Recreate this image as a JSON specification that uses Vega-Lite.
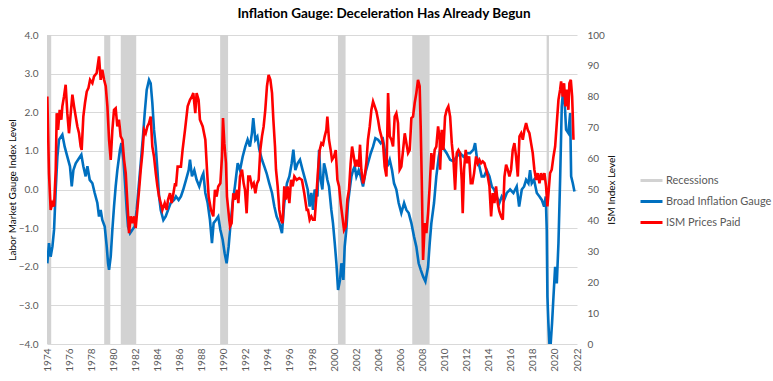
{
  "$schema": "https://vega.github.io/schema/vega-lite/v6.json",
  "width": 530,
  "height": 309,
  "autosize": {"type": "none"},
  "padding": {"left": 47, "top": 35, "right": 196, "bottom": 37},
  "background": "white",
  "title": {"text": "Inflation Gauge: Deceleration Has Already Begun", "fontSize": 13.5, "font": "Lato", "fontWeight": "bold", "color": "#000000", "anchor": "middle", "frame": "group", "dx": 72, "offset": 10},
  "config": {"font": "Lato", "view": {"stroke": null}},
  "datasets": {
    "rec": [
      {"t": 1974.92, "t2": 1975.3}, {"t": 1980.1, "t2": 1980.65}, {"t": 1981.6, "t2": 1983.0},
      {"t": 1990.6, "t2": 1991.32}, {"t": 2001.27, "t2": 2001.96}, {"t": 2008.0, "t2": 2009.57},
      {"t": 2020.17, "t2": 2020.38}
    ],
    "blue": [
      {"t":1974.95,"v":-1.91},{"t":1975.10,"v":-1.39},{"t":1975.25,"v":-1.74},{"t":1975.41,"v":-1.48},{"t":1975.56,"v":-1.04},{"t":1975.71,"v":0},{"t":1975.86,"v":0.85},{"t":1976.01,"v":1.29},{"t":1976.31,"v":1.42},{"t":1976.52,"v":1.11},{"t":1976.76,"v":0.85},{"t":1977.00,"v":0.6},{"t":1977.16,"v":0.08},{"t":1977.31,"v":0.5},{"t":1977.52,"v":0.68},{"t":1977.82,"v":0.81},{"t":1978.03,"v":0.9},{"t":1978.21,"v":0.6},{"t":1978.42,"v":0.34},{"t":1978.58,"v":0.6},{"t":1978.79,"v":0.25},{"t":1979.03,"v":0.16},{"t":1979.24,"v":-0.09},{"t":1979.48,"v":-0.35},{"t":1979.63,"v":-0.7},{"t":1979.78,"v":-0.53},{"t":1979.93,"v":-0.79},{"t":1980.15,"v":-0.96},{"t":1980.33,"v":-1.48},{"t":1980.45,"v":-1.91},{"t":1980.54,"v":-2.08},{"t":1980.69,"v":-1.74},{"t":1980.84,"v":-1.04},{"t":1980.99,"v":-0.44},{"t":1981.14,"v":0.08},{"t":1981.29,"v":0.5},{"t":1981.53,"v":1.03},{"t":1981.66,"v":1.2},{"t":1981.84,"v":0.77},{"t":1981.99,"v":0.16},{"t":1982.14,"v":-0.53},{"t":1982.26,"v":-0.96},{"t":1982.44,"v":-1.13},{"t":1982.65,"v":-1.04},{"t":1982.86,"v":-0.96},{"t":1983.04,"v":-0.53},{"t":1983.20,"v":0},{"t":1983.41,"v":0.68},{"t":1983.59,"v":1.29},{"t":1983.77,"v":1.98},{"t":1983.95,"v":2.58},{"t":1984.16,"v":2.84},{"t":1984.31,"v":2.75},{"t":1984.46,"v":2.24},{"t":1984.61,"v":1.55},{"t":1984.77,"v":1.11},{"t":1984.92,"v":0.5},{"t":1985.07,"v":-0.18},{"t":1985.22,"v":-0.53},{"t":1985.46,"v":-0.79},{"t":1985.67,"v":-0.7},{"t":1985.88,"v":-0.53},{"t":1986.12,"v":-0.35},{"t":1986.43,"v":-0.27},{"t":1986.60,"v":-0.18},{"t":1986.84,"v":-0.27},{"t":1987.05,"v":-0.18},{"t":1987.26,"v":0},{"t":1987.51,"v":0.25},{"t":1987.75,"v":0.5},{"t":1987.87,"v":0.77},{"t":1988.05,"v":0.34},{"t":1988.26,"v":0.5},{"t":1988.47,"v":0.25},{"t":1988.71,"v":0.08},{"t":1988.96,"v":0.34},{"t":1989.08,"v":0.42},{"t":1989.26,"v":-0.09},{"t":1989.47,"v":-0.35},{"t":1989.68,"v":-0.79},{"t":1989.86,"v":-1.39},{"t":1990.01,"v":-0.87},{"t":1990.22,"v":-0.79},{"t":1990.43,"v":-0.7},{"t":1990.62,"v":-1.04},{"t":1990.83,"v":-1.3},{"t":1991.01,"v":-1.65},{"t":1991.19,"v":-1.91},{"t":1991.37,"v":-1.48},{"t":1991.52,"v":-0.96},{"t":1991.73,"v":-0.35},{"t":1991.94,"v":0.08},{"t":1992.19,"v":0.68},{"t":1992.40,"v":0.5},{"t":1992.64,"v":0.85},{"t":1992.88,"v":1.11},{"t":1993.09,"v":1.29},{"t":1993.30,"v":1.11},{"t":1993.48,"v":1.46},{"t":1993.60,"v":1.85},{"t":1993.79,"v":1.29},{"t":1993.97,"v":1.37},{"t":1994.15,"v":1.03},{"t":1994.39,"v":0.77},{"t":1994.60,"v":0.6},{"t":1994.81,"v":0.42},{"t":1995.05,"v":0.16},{"t":1995.30,"v":-0.09},{"t":1995.51,"v":-0.44},{"t":1995.72,"v":-0.7},{"t":1995.96,"v":-0.87},{"t":1996.20,"v":-1.13},{"t":1996.41,"v":-0.35},{"t":1996.65,"v":0.16},{"t":1996.87,"v":0.34},{"t":1997.08,"v":0.68},{"t":1997.23,"v":1.03},{"t":1997.41,"v":0.5},{"t":1997.62,"v":0.68},{"t":1997.83,"v":0.77},{"t":1998.07,"v":0.5},{"t":1998.31,"v":0.25},{"t":1998.53,"v":0},{"t":1998.71,"v":-0.44},{"t":1998.86,"v":-0.09},{"t":1999.01,"v":-0.53},{"t":1999.16,"v":0},{"t":1999.41,"v":-0.18},{"t":1999.56,"v":1.03},{"t":1999.71,"v":0.25},{"t":1999.86,"v":0},{"t":2000.01,"v":0.68},{"t":2000.16,"v":0.5},{"t":2000.31,"v":0.25},{"t":2000.46,"v":0.08},{"t":2000.67,"v":-0.53},{"t":2000.82,"v":-0.87},{"t":2000.98,"v":-1.39},{"t":2001.13,"v":-1.91},{"t":2001.28,"v":-2.6},{"t":2001.46,"v":-2.34},{"t":2001.58,"v":-1.91},{"t":2001.76,"v":-2.34},{"t":2001.88,"v":-1.48},{"t":2002.03,"v":-1.04},{"t":2002.18,"v":-0.35},{"t":2002.33,"v":0},{"t":2002.49,"v":0.34},{"t":2002.64,"v":0.5},{"t":2002.79,"v":0.6},{"t":2002.94,"v":0.34},{"t":2003.15,"v":0.5},{"t":2003.33,"v":0.34},{"t":2003.54,"v":0.08},{"t":2003.75,"v":0.42},{"t":2003.99,"v":0.68},{"t":2004.24,"v":0.94},{"t":2004.45,"v":1.11},{"t":2004.66,"v":1.33},{"t":2004.90,"v":1.29},{"t":2005.14,"v":1.2},{"t":2005.35,"v":1.29},{"t":2005.56,"v":0.94},{"t":2005.75,"v":0.6},{"t":2005.96,"v":0.77},{"t":2006.17,"v":0.5},{"t":2006.35,"v":0.16},{"t":2006.56,"v":0},{"t":2006.77,"v":-0.35},{"t":2007.01,"v":-0.61},{"t":2007.26,"v":-0.35},{"t":2007.47,"v":-0.53},{"t":2007.68,"v":-0.61},{"t":2007.92,"v":-0.87},{"t":2008.16,"v":-1.22},{"t":2008.37,"v":-1.48},{"t":2008.58,"v":-1.91},{"t":2008.77,"v":-2.08},{"t":2008.98,"v":-2.25},{"t":2009.19,"v":-2.38},{"t":2009.43,"v":-2.0},{"t":2009.58,"v":-1.39},{"t":2009.73,"v":-0.87},{"t":2009.97,"v":-0.35},{"t":2010.18,"v":0.34},{"t":2010.40,"v":0.85},{"t":2010.52,"v":1.03},{"t":2010.82,"v":1.07},{"t":2011.12,"v":0.94},{"t":2011.43,"v":0.77},{"t":2011.73,"v":0.73},{"t":2012.03,"v":0.85},{"t":2012.33,"v":0.94},{"t":2012.63,"v":0.85},{"t":2012.94,"v":0.94},{"t":2013.24,"v":0.94},{"t":2013.54,"v":1.03},{"t":2013.69,"v":1.2},{"t":2013.84,"v":0.85},{"t":2014.08,"v":0.6},{"t":2014.29,"v":0.34},{"t":2014.51,"v":0.34},{"t":2014.75,"v":0.5},{"t":2014.99,"v":0.34},{"t":2015.20,"v":0.08},{"t":2015.41,"v":0},{"t":2015.65,"v":-0.18},{"t":2015.89,"v":-0.35},{"t":2016.11,"v":-0.18},{"t":2016.32,"v":-0.27},{"t":2016.56,"v":-0.09},{"t":2016.86,"v":0},{"t":2017.16,"v":-0.09},{"t":2017.46,"v":0.08},{"t":2017.68,"v":-0.44},{"t":2017.92,"v":0},{"t":2018.13,"v":0.08},{"t":2018.31,"v":0.25},{"t":2018.52,"v":0.16},{"t":2018.67,"v":0.5},{"t":2018.82,"v":0.16},{"t":2019.03,"v":0.25},{"t":2019.28,"v":-0.09},{"t":2019.52,"v":-0.18},{"t":2019.73,"v":-0.27},{"t":2019.94,"v":-0.44},{"t":2020.09,"v":-0.18},{"t":2020.18,"v":-1.04},{"t":2020.24,"v":-2.77},{"t":2020.33,"v":-3.46},{"t":2020.42,"v":-3.98},{"t":2020.54,"v":-3.98},{"t":2020.66,"v":-3.46},{"t":2020.79,"v":-2.77},{"t":2020.94,"v":-2.0},{"t":2021.09,"v":-2.43},{"t":2021.24,"v":-1.39},{"t":2021.39,"v":0.25},{"t":2021.54,"v":2.15},{"t":2021.69,"v":2.67},{"t":2021.84,"v":2.06},{"t":2021.93,"v":1.55},{"t":2022.14,"v":1.46},{"t":2022.30,"v":1.98},{"t":2022.39,"v":0.34},{"t":2022.54,"v":0.16},{"t":2022.69,"v":-0.05}
    ],
    "red": [
      {"t":1974.95,"v":80.1},{"t":1975.10,"v":55.3},{"t":1975.25,"v":43.4},{"t":1975.41,"v":45.6},{"t":1975.56,"v":44.5},{"t":1975.71,"v":56.4},{"t":1975.80,"v":74.7},{"t":1975.92,"v":69.3},{"t":1976.07,"v":75.8},{"t":1976.22,"v":72.6},{"t":1976.31,"v":76.9},{"t":1976.46,"v":80.1},{"t":1976.61,"v":83.9},{"t":1976.76,"v":74.7},{"t":1976.91,"v":68.2},{"t":1977.07,"v":74.7},{"t":1977.22,"v":80.7},{"t":1977.37,"v":76.9},{"t":1977.52,"v":73.6},{"t":1977.67,"v":70.4},{"t":1977.82,"v":68.2},{"t":1977.97,"v":63.9},{"t":1978.06,"v":62.8},{"t":1978.21,"v":73.6},{"t":1978.36,"v":78},{"t":1978.52,"v":81.7},{"t":1978.67,"v":82.8},{"t":1978.82,"v":85.5},{"t":1979.03,"v":84.4},{"t":1979.18,"v":86.6},{"t":1979.42,"v":87.7},{"t":1979.63,"v":93.1},{"t":1979.78,"v":85.5},{"t":1979.93,"v":88.8},{"t":1980.09,"v":85.5},{"t":1980.24,"v":83.4},{"t":1980.39,"v":76.9},{"t":1980.54,"v":66.1},{"t":1980.69,"v":59.6},{"t":1980.84,"v":69.3},{"t":1980.99,"v":75.8},{"t":1981.14,"v":76.3},{"t":1981.29,"v":70.4},{"t":1981.44,"v":72.6},{"t":1981.59,"v":67.2},{"t":1981.75,"v":66.1},{"t":1981.90,"v":59.6},{"t":1982.05,"v":55.3},{"t":1982.20,"v":45.6},{"t":1982.35,"v":35.9},{"t":1982.50,"v":41.3},{"t":1982.65,"v":39.1},{"t":1982.80,"v":41.3},{"t":1982.95,"v":37.5},{"t":1983.10,"v":43.4},{"t":1983.26,"v":49.9},{"t":1983.41,"v":56.4},{"t":1983.56,"v":61.8},{"t":1983.71,"v":69.3},{"t":1983.86,"v":68.2},{"t":1984.01,"v":70.4},{"t":1984.16,"v":71.5},{"t":1984.31,"v":73.6},{"t":1984.46,"v":63.9},{"t":1984.61,"v":60.7},{"t":1984.77,"v":55.3},{"t":1984.92,"v":51},{"t":1985.07,"v":47.7},{"t":1985.22,"v":45.6},{"t":1985.37,"v":43.4},{"t":1985.58,"v":45.6},{"t":1985.76,"v":43.4},{"t":1985.88,"v":46.7},{"t":1986.06,"v":48.8},{"t":1986.21,"v":45.6},{"t":1986.37,"v":48.8},{"t":1986.52,"v":52},{"t":1986.60,"v":51},{"t":1986.75,"v":57.4},{"t":1987.05,"v":57.4},{"t":1987.20,"v":62.8},{"t":1987.42,"v":69.3},{"t":1987.66,"v":76.9},{"t":1987.87,"v":79},{"t":1988.05,"v":80.1},{"t":1988.17,"v":81.2},{"t":1988.35,"v":74.7},{"t":1988.47,"v":81.2},{"t":1988.65,"v":79},{"t":1988.77,"v":72.6},{"t":1989.02,"v":70.4},{"t":1989.26,"v":66.1},{"t":1989.41,"v":56.4},{"t":1989.56,"v":47.7},{"t":1989.77,"v":43.4},{"t":1989.98,"v":41.3},{"t":1990.13,"v":49.9},{"t":1990.28,"v":47.7},{"t":1990.43,"v":51},{"t":1990.62,"v":52},{"t":1990.77,"v":60.7},{"t":1990.86,"v":73.1},{"t":1990.98,"v":65},{"t":1991.13,"v":58.5},{"t":1991.22,"v":47.7},{"t":1991.37,"v":42.3},{"t":1991.49,"v":38},{"t":1991.64,"v":39.1},{"t":1991.79,"v":48.8},{"t":1991.94,"v":46.7},{"t":1992.13,"v":49.9},{"t":1992.25,"v":45.6},{"t":1992.40,"v":54.2},{"t":1992.58,"v":56.4},{"t":1992.73,"v":52},{"t":1992.85,"v":49.9},{"t":1993.00,"v":42.3},{"t":1993.15,"v":54.2},{"t":1993.30,"v":54.2},{"t":1993.48,"v":51},{"t":1993.64,"v":52},{"t":1993.79,"v":48.8},{"t":1993.94,"v":52},{"t":1994.09,"v":53.1},{"t":1994.24,"v":62.8},{"t":1994.39,"v":67.2},{"t":1994.54,"v":70.4},{"t":1994.69,"v":75.8},{"t":1994.84,"v":83.4},{"t":1994.99,"v":87.1},{"t":1995.15,"v":85.5},{"t":1995.30,"v":81.2},{"t":1995.42,"v":72.6},{"t":1995.57,"v":63.9},{"t":1995.66,"v":56.4},{"t":1995.81,"v":51},{"t":1995.96,"v":43.4},{"t":1996.11,"v":40.2},{"t":1996.26,"v":39.1},{"t":1996.41,"v":51},{"t":1996.56,"v":46.7},{"t":1996.71,"v":51},{"t":1996.87,"v":45.6},{"t":1997.02,"v":53.1},{"t":1997.17,"v":51},{"t":1997.32,"v":54.2},{"t":1997.53,"v":53.1},{"t":1997.77,"v":53.7},{"t":1998.01,"v":53.1},{"t":1998.22,"v":48.8},{"t":1998.44,"v":43.4},{"t":1998.56,"v":43.4},{"t":1998.71,"v":40.2},{"t":1998.86,"v":41.3},{"t":1999.01,"v":40.2},{"t":1999.16,"v":40.2},{"t":1999.31,"v":47.7},{"t":1999.47,"v":56.4},{"t":1999.62,"v":62.8},{"t":1999.77,"v":65},{"t":1999.92,"v":64.5},{"t":2000.07,"v":67.2},{"t":2000.22,"v":69.3},{"t":2000.31,"v":73.6},{"t":2000.46,"v":66.1},{"t":2000.61,"v":62.8},{"t":2000.73,"v":59.6},{"t":2000.92,"v":60.7},{"t":2001.07,"v":62.8},{"t":2001.22,"v":53.1},{"t":2001.37,"v":51},{"t":2001.52,"v":45.6},{"t":2001.67,"v":41.3},{"t":2001.82,"v":36.9},{"t":2001.97,"v":38},{"t":2002.12,"v":46.7},{"t":2002.27,"v":49.9},{"t":2002.42,"v":58.5},{"t":2002.55,"v":63.9},{"t":2002.70,"v":60.7},{"t":2002.85,"v":57.4},{"t":2003.00,"v":59.6},{"t":2003.15,"v":57.4},{"t":2003.27,"v":64.5},{"t":2003.39,"v":56.4},{"t":2003.54,"v":52},{"t":2003.69,"v":54.2},{"t":2003.84,"v":58.5},{"t":2003.99,"v":66.1},{"t":2004.15,"v":70.4},{"t":2004.30,"v":75.8},{"t":2004.45,"v":78.5},{"t":2004.60,"v":76.9},{"t":2004.75,"v":75.3},{"t":2004.90,"v":72.6},{"t":2005.05,"v":69.3},{"t":2005.20,"v":67.2},{"t":2005.35,"v":65},{"t":2005.50,"v":57.4},{"t":2005.66,"v":54.2},{"t":2005.81,"v":81.2},{"t":2005.96,"v":67.2},{"t":2006.11,"v":66.1},{"t":2006.26,"v":63.9},{"t":2006.41,"v":73.6},{"t":2006.56,"v":74.7},{"t":2006.71,"v":71.5},{"t":2006.86,"v":56.4},{"t":2007.01,"v":57.4},{"t":2007.17,"v":62.8},{"t":2007.32,"v":68.2},{"t":2007.47,"v":65},{"t":2007.62,"v":61.8},{"t":2007.77,"v":62.8},{"t":2007.92,"v":73.1},{"t":2008.07,"v":73.6},{"t":2008.22,"v":78},{"t":2008.37,"v":81.2},{"t":2008.52,"v":85.5},{"t":2008.67,"v":83.4},{"t":2008.77,"v":69.3},{"t":2008.86,"v":53.1},{"t":2008.98,"v":27.2},{"t":2009.13,"v":39.1},{"t":2009.28,"v":35.9},{"t":2009.43,"v":42.3},{"t":2009.58,"v":51},{"t":2009.73,"v":61.8},{"t":2009.88,"v":56.4},{"t":2010.03,"v":62.8},{"t":2010.18,"v":63.9},{"t":2010.34,"v":70.4},{"t":2010.49,"v":66.1},{"t":2010.52,"v":56.4},{"t":2010.67,"v":69.3},{"t":2010.82,"v":62.8},{"t":2010.97,"v":73.6},{"t":2011.12,"v":75.8},{"t":2011.27,"v":76.9},{"t":2011.43,"v":73.6},{"t":2011.58,"v":65},{"t":2011.73,"v":59.6},{"t":2011.88,"v":49.9},{"t":2012.03,"v":61.8},{"t":2012.18,"v":62.8},{"t":2012.33,"v":61.8},{"t":2012.48,"v":53.1},{"t":2012.57,"v":42.3},{"t":2012.69,"v":56.4},{"t":2012.84,"v":62.8},{"t":2012.98,"v":58.5},{"t":2013.15,"v":60.7},{"t":2013.30,"v":52},{"t":2013.45,"v":52},{"t":2013.60,"v":55.3},{"t":2013.78,"v":60.7},{"t":2013.93,"v":58.5},{"t":2014.08,"v":59.6},{"t":2014.23,"v":58.5},{"t":2014.38,"v":59.1},{"t":2014.54,"v":58.5},{"t":2014.69,"v":56.4},{"t":2014.84,"v":54.2},{"t":2014.99,"v":51},{"t":2015.14,"v":41.3},{"t":2015.29,"v":48.8},{"t":2015.44,"v":45.6},{"t":2015.59,"v":51},{"t":2015.74,"v":45.6},{"t":2015.89,"v":42.9},{"t":2016.05,"v":41.3},{"t":2016.20,"v":40.2},{"t":2016.35,"v":54.2},{"t":2016.50,"v":58},{"t":2016.65,"v":56.4},{"t":2016.80,"v":54.2},{"t":2016.95,"v":56.4},{"t":2017.10,"v":62.8},{"t":2017.25,"v":65},{"t":2017.40,"v":60.7},{"t":2017.56,"v":54.2},{"t":2017.71,"v":67.2},{"t":2017.86,"v":68.2},{"t":2018.01,"v":66.1},{"t":2018.16,"v":69.3},{"t":2018.31,"v":71.5},{"t":2018.46,"v":69.3},{"t":2018.61,"v":68.2},{"t":2018.76,"v":65},{"t":2018.91,"v":61.8},{"t":2019.06,"v":56.4},{"t":2019.22,"v":53.1},{"t":2019.37,"v":55.3},{"t":2019.52,"v":52},{"t":2019.67,"v":55.3},{"t":2019.82,"v":53.1},{"t":2019.97,"v":55.3},{"t":2020.12,"v":51},{"t":2020.24,"v":44.5},{"t":2020.36,"v":49.9},{"t":2020.48,"v":55.3},{"t":2020.63,"v":56.4},{"t":2020.79,"v":60.7},{"t":2020.94,"v":63.9},{"t":2021.09,"v":71.5},{"t":2021.24,"v":79},{"t":2021.39,"v":82.3},{"t":2021.48,"v":85},{"t":2021.63,"v":80.1},{"t":2021.75,"v":84.4},{"t":2021.87,"v":76.9},{"t":2021.99,"v":82.3},{"t":2022.14,"v":75.8},{"t":2022.23,"v":84.4},{"t":2022.36,"v":85.5},{"t":2022.48,"v":80.1},{"t":2022.54,"v":73.6},{"t":2022.60,"v":66.1}
    ]
  },
  "encoding": {
    "x": {
      "field": "t", "type": "quantitative",
      "scale": {"domain": [1974.92, 2022.92], "nice": false, "zero": false},
      "axis": {
        "title": null,
        "values": [1974.92,1976.92,1978.92,1980.92,1982.92,1984.92,1986.92,1988.92,1990.92,1992.92,1994.92,1996.92,1998.92,2000.92,2002.92,2004.92,2006.92,2008.92,2010.92,2012.92,2014.92,2016.92,2018.92,2020.92,2022.92],
        "labelExpr": "floor(datum.value)",
        "labelAngle": 270, "labelFontSize": 10, "labelColor": "#595959", "labelPadding": 4,
        "ticks": false, "domain": false, "grid": false, "labelOverlap": false, "labelBound": false, "labelFlush": false
      }
    }
  },
  "layer": [
    {
      "data": {"name": "rec"},
      "mark": {"type": "rect", "color": "#D2D2D2", "opacity": 1},
      "encoding": {
        "x2": {"field": "t2"},
        "color": {
          "datum": "Recessions",
          "scale": {"domain": ["Recessions", "Broad Inflation Gauge", "ISM Prices Paid"], "range": ["#D2D2D2", "#0070C0", "#FF0000"]},
          "legend": {
            "orient": "none", "legendX": 592, "legendY": 133, "title": null,
            "symbolType": "stroke", "symbolSize": 484, "symbolStrokeWidth": 3,
            "labelFontSize": 11, "labelColor": "#595959", "labelOffset": 2, "rowPadding": 2, "padding": 0,
            "encode": {
              "symbols": {"update": {
                "stroke": {"scale": "color", "field": "value"},
                "strokeWidth": {"signal": "datum.value === 'Recessions' ? 6 : 3"},
                "strokeCap": {"value": "butt"},
                "opacity": {"value": 1}
              }}
            }
          }
        }
      }
    },
    {
      "data": {"name": "blue"},
      "mark": {"type": "line", "strokeWidth": 2.6, "clip": true},
      "encoding": {
        "y": {
          "field": "v", "type": "quantitative",
          "scale": {"domain": [-4, 4], "nice": false, "zero": false},
          "axis": {
            "orient": "left", "values": [-4,-3,-2,-1,0,1,2,3,4], "format": ".1f",
            "title": "Labor Market Gauge Index Level", "titleFontSize": 10, "titleFontWeight": "normal", "titleColor": "#000000", "titlePadding": 1,
            "labelColor": "#595959", "labelFontSize": 10, "labelPadding": 9,
            "ticks": false, "domain": false, "grid": true, "gridColor": "#D9D9D9", "gridWidth": 1
          }
        },
        "color": {"datum": "Broad Inflation Gauge"}
      }
    },
    {
      "data": {"name": "red"},
      "mark": {"type": "line", "strokeWidth": 2.6, "clip": true},
      "encoding": {
        "y": {
          "field": "v", "type": "quantitative",
          "scale": {"domain": [0, 100], "nice": false},
          "axis": {
            "orient": "right", "values": [0,10,20,30,40,50,60,70,80,90,100],
            "title": "ISM Index Level", "titleAngle": 270, "titleFontSize": 10, "titleFontWeight": "normal", "titleColor": "#000000", "titlePadding": 12,
            "labelColor": "#595959", "labelFontSize": 10, "labelPadding": 10,
            "ticks": false, "domain": false, "grid": false
          }
        },
        "color": {"datum": "ISM Prices Paid"}
      }
    }
  ],
  "resolve": {"scale": {"y": "independent"}}
}
